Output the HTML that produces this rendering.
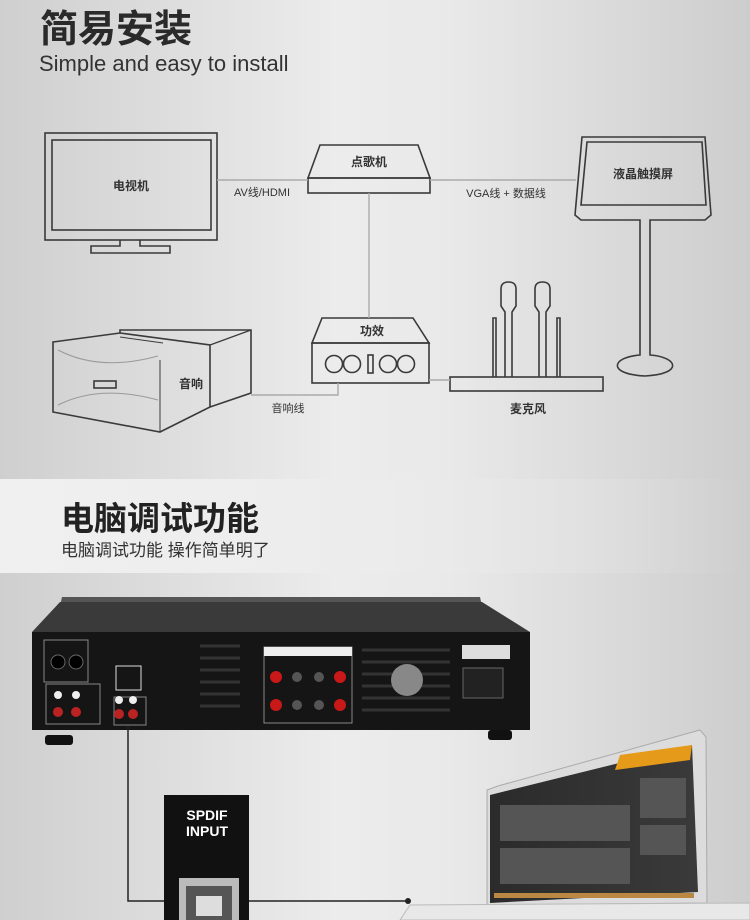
<!DOCTYPE html>
<html><head><meta charset="utf-8"><style>
html,body{margin:0;padding:0;width:750px;height:920px;overflow:hidden}
body{background:linear-gradient(90deg,#cfcfcf 0%,#ececec 45%,#e9e9e9 60%,#cdcdcd 100%)}
svg{display:block}
text{font-family:"Liberation Sans","Noto Sans CJK SC",sans-serif}
</style></head><body>
<svg width="750" height="920" viewBox="0 0 750 920" xmlns="http://www.w3.org/2000/svg">
<defs>
<linearGradient id="band" x1="0" x2="1"><stop offset="0" stop-color="#f0f0f0"/><stop offset="0.5" stop-color="#ececec"/><stop offset="1" stop-color="#e0e0e0" stop-opacity="0"/></linearGradient>
<linearGradient id="lap" x1="0" x2="1"><stop offset="0" stop-color="#2b2b2b"/><stop offset="1" stop-color="#3a3a3a"/></linearGradient>
</defs>
<text x="40" y="42" font-size="38" font-weight="bold" fill="#2a2a2a">简易安装</text>
<text x="39" y="71" font-size="22" fill="#333">Simple and easy to install</text>

<g fill="none" stroke="#3a3a3a" stroke-width="1.6">
<!-- TV -->
<rect x="45" y="133" width="172" height="107"/>
<rect x="52" y="140" width="159" height="90"/>
<path d="M120,240 V246 H91 V253 H170 V246 H140 V240"/>
<!-- 点歌机 -->
<path d="M320,145 H418 L430,178 H308 Z"/>
<rect x="308" y="178" width="122" height="15"/>
<!-- amp -->
<path d="M322,318 H413 L429,343 H312 Z"/>
<rect x="312" y="343" width="117" height="40"/>
<circle cx="334" cy="364" r="8.5"/><circle cx="352" cy="364" r="8.5"/>
<rect x="368" y="355" width="5" height="18"/>
<circle cx="388" cy="364" r="8.5"/><circle cx="406" cy="364" r="8.5"/>
<!-- mic base -->
<rect x="450" y="377" width="153" height="14"/>
<!-- mics -->
<path d="M505,377 V312 L501,306 V289 Q501,282 508.5,282 Q516,282 516,289 V306 L512,312 V377"/>
<path d="M539,377 V312 L535,306 V289 Q535,282 542.5,282 Q550,282 550,289 V306 L546,312 V377"/>
<path d="M493,377 V318 H496 V377"/>
<path d="M557,377 V318 H560 V377"/>
<!-- touch screen -->
<path d="M582,137 H705 L711,215 L705,220 H650 V355 C678,357 684,374 645,376 C606,374 612,357 640,355 V220 H581 L575,215 Z"/>
<path d="M587,142 H702 L706,205 H581 Z"/>
<!-- speakers -->
<path d="M120,333 L120,330 H251 V393 L210,407"/>
<path d="M210,345 L251,330" stroke-width="1.2"/>
<path d="M53,342 L120,333 L210,345 V407 L160,432 L53,412 Z"/>
<path d="M160,432 V360" stroke-width="1"/>
<path d="M120,337 L163,343" stroke-width="1"/>
<rect x="94" y="381" width="22" height="7"/>
<path d="M58,350 Q100,372 158,356" stroke="#999" stroke-width="1"/>
<path d="M58,405 Q100,384 158,400" stroke="#999" stroke-width="1"/>
</g>
<g stroke="#aaa" stroke-width="1.4" fill="none">
<line x1="217" y1="180" x2="308" y2="180"/>
<line x1="430" y1="180" x2="576" y2="180"/>
<line x1="369" y1="193" x2="369" y2="318"/>
<line x1="429" y1="380" x2="450" y2="380"/>
<polyline points="338,383 338,395 251,395"/>
</g>
<g font-size="12" fill="#333" text-anchor="middle">
<text x="131" y="190" font-weight="bold">电视机</text>
<text x="369" y="166" font-weight="bold">点歌机</text>
<text x="643" y="178" font-weight="bold">液晶触摸屏</text>
<text x="372" y="335" font-weight="bold">功效</text>
<text x="191" y="388" font-weight="bold">音响</text>
<text x="528" y="413" font-weight="bold">麦克风</text>
<text x="262" y="196" font-size="11">AV线/HDMI</text>
<text x="506" y="197" font-size="11">VGA线 + 数据线</text>
<text x="288" y="412" font-size="11">音响线</text>
</g>

<rect x="0" y="479" width="750" height="94" fill="url(#band)"/>
<text x="61" y="530" font-size="33" font-weight="bold" fill="#222">电脑调试功能</text>
<text x="61" y="556" font-size="17" fill="#333">电脑调试功能 操作简单明了</text>

<!-- amplifier -->
<polygon points="62,597 480,597 482,606 60,606" fill="#555"/>
<polygon points="60,602 482,602 530,632 32,632" fill="#3a3a3a"/>
<rect x="32" y="632" width="498" height="98" fill="#151515"/>
<rect x="45" y="735" width="28" height="10" rx="3" fill="#111"/>
<rect x="488" y="730" width="24" height="10" rx="3" fill="#111"/>
<rect x="44" y="640" width="44" height="42" fill="none" stroke="#888"/>
<circle cx="58" cy="662" r="7" fill="#000" stroke="#666"/><circle cx="76" cy="662" r="7" fill="#000" stroke="#666"/>
<rect x="46" y="684" width="54" height="40" fill="none" stroke="#888"/>
<circle cx="58" cy="695" r="4" fill="#eee"/><circle cx="76" cy="695" r="4" fill="#eee"/>
<circle cx="58" cy="712" r="5" fill="#b22"/><circle cx="76" cy="712" r="5" fill="#b22"/>
<rect x="114" y="697" width="32" height="28" fill="none" stroke="#888"/>
<circle cx="119" cy="700" r="4" fill="#eee"/><circle cx="133" cy="700" r="4" fill="#eee"/>
<circle cx="119" cy="714" r="5" fill="#b22"/><circle cx="133" cy="714" r="5" fill="#b22"/>
<rect x="116" y="666" width="25" height="24" fill="none" stroke="#ddd"/>
<rect x="264" y="647" width="88" height="76" fill="none" stroke="#888"/>
<rect x="264" y="647" width="88" height="9" fill="#eee"/>
<g fill="#c81818"><circle cx="276" cy="677" r="6"/><circle cx="340" cy="677" r="6"/><circle cx="276" cy="705" r="6"/><circle cx="340" cy="705" r="6"/></g>
<g fill="#555"><circle cx="297" cy="677" r="5"/><circle cx="319" cy="677" r="5"/><circle cx="297" cy="705" r="5"/><circle cx="319" cy="705" r="5"/></g>
<g stroke="#333" stroke-width="3">
<line x1="200" y1="646" x2="240" y2="646"/><line x1="200" y1="658" x2="240" y2="658"/><line x1="200" y1="670" x2="240" y2="670"/><line x1="200" y1="682" x2="240" y2="682"/><line x1="200" y1="694" x2="240" y2="694"/><line x1="200" y1="706" x2="240" y2="706"/>
<line x1="362" y1="650" x2="450" y2="650"/><line x1="362" y1="662" x2="450" y2="662"/><line x1="362" y1="674" x2="450" y2="674"/><line x1="362" y1="686" x2="450" y2="686"/><line x1="362" y1="698" x2="450" y2="698"/><line x1="362" y1="710" x2="450" y2="710"/>
</g>
<circle cx="407" cy="680" r="16" fill="#888"/>
<rect x="462" y="645" width="48" height="14" fill="#ddd"/>
<rect x="463" y="668" width="40" height="30" fill="#222" stroke="#666"/>
<!-- cable -->
<polyline points="128,726 128,901 408,901" fill="none" stroke="#222" stroke-width="1.5"/>
<circle cx="408" cy="901" r="3" fill="#222"/>
<!-- SPDIF -->
<rect x="164" y="795" width="85" height="125" fill="#111"/>
<text x="207" y="820" font-size="14" font-weight="bold" fill="#fff" text-anchor="middle">SPDIF</text>
<text x="207" y="836" font-size="14" font-weight="bold" fill="#fff" text-anchor="middle">INPUT</text>
<rect x="179" y="878" width="60" height="42" fill="#bbb"/>
<rect x="186" y="886" width="46" height="34" fill="#555"/>
<rect x="196" y="896" width="26" height="20" fill="#ddd"/>
<!-- laptop -->
<polygon points="498,786 700,730 706,737 707,903 487,905 487,790" fill="#dcdcdc" stroke="#aaa"/>
<polygon points="490,795 692,745 698,892 490,903" fill="url(#lap)"/>
<polygon points="620,755 692,745 690,760 615,770" fill="#e59a1a"/>
<g fill="#555"><rect x="500" y="805" width="130" height="36"/><rect x="500" y="848" width="130" height="36"/><rect x="640" y="778" width="46" height="40"/><rect x="640" y="825" width="46" height="30"/></g>
<rect x="494" y="893" width="200" height="5" fill="#b84"/>
<polygon points="410,905 750,903 750,920 400,920" fill="#e8e8e8" stroke="#bbb"/>
</svg>
</body></html>
